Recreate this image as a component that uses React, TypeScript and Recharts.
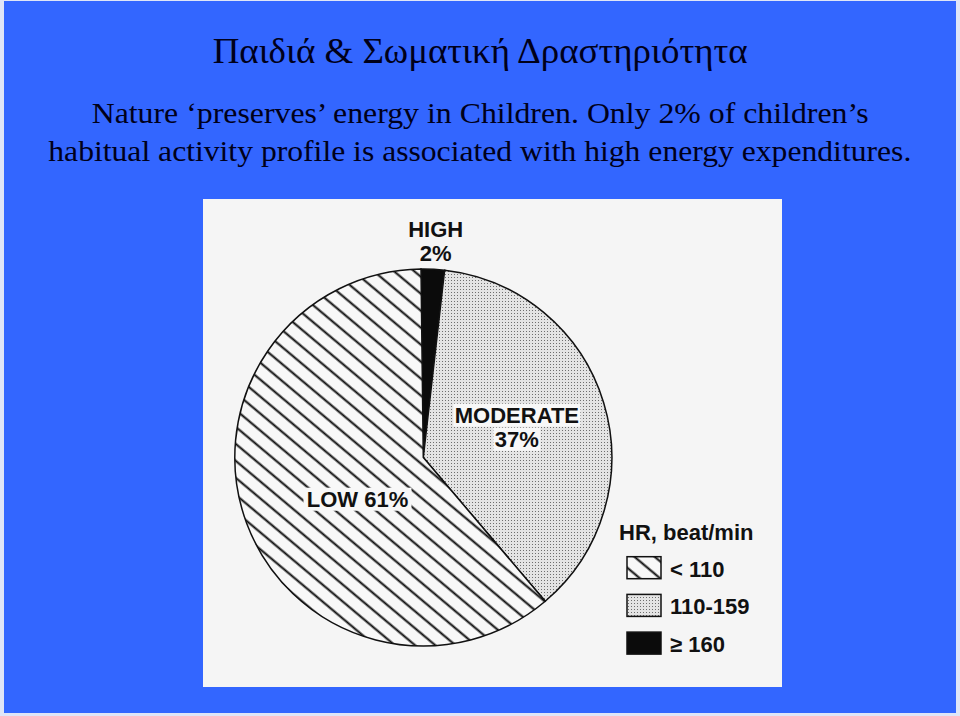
import React from 'react';
import { PieChart, Pie, Cell, Legend } from 'recharts';

// ---- data ----
const categories = ['HIGH', 'MODERATE', 'LOW'];
const shares = [2, 37, 61];
const hrRanges = ['≥ 160', '110-159', '< 110'];
const legendTitle = 'HR, beat/min';
const titleText = 'Παιδιά & Σωματική Δραστηριότητα';
const subtitleLines = [
  'Nature ‘preserves’ energy in Children. Only 2% of children’s',
  'habitual activity profile is associated with high energy expenditures.',
];

const data = categories.map((name, i) => ({ name, value: shares[i], range: hrRanges[i] }));

// ---- styles / layout ----
const BLUE = '#3366ff';
const PANEL = '#f5f5f5';
const SANS = "'Liberation Sans', Arial, Helvetica, sans-serif";
const SERIF = "'Liberation Serif', 'Times New Roman', serif";
const FILL_IDS = ['fill-high', 'fill-mod', 'fill-low'];
const legendOrder = [2, 1, 0];
const RAD = Math.PI / 180;

// label placement relative to each slice (angle offset in deg, radius as fraction of outer radius)
const LABEL_LAYOUT: Record<string, { dAngle: number; r: number; stacked: boolean; boxes: number[] }> = {
  HIGH: { dAngle: -0.5, r: 1.106, stacked: true, boxes: [] },
  MODERATE: { dAngle: -3.2, r: 0.511, stacked: true, boxes: [127, 47] },
  LOW: { dAngle: 16.3, r: 0.436, stacked: false, boxes: [108] },
};

function Patterns({ suffix }: { suffix: string }) {
  return (
    <defs>
      <pattern id={`fill-low${suffix}`} patternUnits="userSpaceOnUse" width={13} height={13} patternTransform="rotate(-50)">
        <rect x={0} y={0} width={13} height={13} fill="#f8f8f8" />
        <line x1={6.5} y1={-1} x2={6.5} y2={14} stroke="#0a0a0a" strokeWidth={2} />
      </pattern>
      <pattern id={`fill-mod${suffix}`} patternUnits="userSpaceOnUse" width={3} height={3}>
        <rect x={0} y={0} width={3} height={3} fill="#e4e4e4" />
        <rect x={1} y={1} width={1} height={1} fill="#6e6e6e" />
      </pattern>
      <pattern id={`fill-high${suffix}`} patternUnits="userSpaceOnUse" width={4} height={4}>
        <rect x={0} y={0} width={4} height={4} fill="#0b0b0b" />
      </pattern>
    </defs>
  );
}

function renderLabel(props: any) {
  const { cx, cy, midAngle, outerRadius, index } = props;
  const name = categories[index];
  const lay = LABEL_LAYOUT[name];
  const a = (midAngle + lay.dAngle) * RAD;
  const r = lay.r * outerRadius;
  const x = cx + r * Math.cos(a);
  const y = cy - r * Math.sin(a);
  const lines = lay.stacked ? [name, `${shares[index]}%`] : [`${name} ${shares[index]}%`];
  const baselines = lay.stacked ? [y - 12, y + 12] : [y];
  return (
    <g key={`lbl-${index}`}>
      {lines.map((t, i) => (
        <g key={i}>
          {lay.boxes[i] ? (
            <rect x={x - lay.boxes[i] / 2} y={baselines[i] - 19} width={lay.boxes[i]} height={23} fill="#f8f8f8" />
          ) : null}
          <text
            x={x}
            y={baselines[i]}
            textAnchor="middle"
            fontFamily={SANS}
            fontWeight="bold"
            fontSize={22}
            fill="#111"
          >
            {t}
          </text>
        </g>
      ))}
    </g>
  );
}

function LegendContent() {
  return (
    <svg width={170} height={150} style={{ display: 'block' }}>
      <Patterns suffix="-lg" />
      <text x={4} y={25} fontFamily={SANS} fontWeight="bold" fontSize={22} fill="#111">
        {legendTitle}
      </text>
      {legendOrder.map((idx, row) => {
        const top = 41.7 + row * 37.7;
        return (
          <g key={idx}>
            <rect x={12} y={top} width={34} height={22} fill={`url(#${FILL_IDS[idx]}-lg)`} stroke="#111" strokeWidth={1.5} />
            <text x={55} y={top + 20} fontFamily={SANS} fontWeight="bold" fontSize={22} fill="#111">
              {hrRanges[idx]}
            </text>
          </g>
        );
      })}
    </svg>
  );
}

export default function App() {
  return (
    <div style={{ position: 'absolute', left: 0, top: 0, width: 960, height: 716, background: '#dfe5f7', overflow: 'hidden' }}>
      <div style={{ position: 'absolute', left: 4, top: 1, width: 952, height: 712, background: BLUE }} />
      <div style={{ position: 'absolute', left: 203, top: 199, width: 579, height: 488, background: PANEL }} />
      <svg width={960} height={200} style={{ position: 'absolute', left: 0, top: 0 }}>
        <text x={212.7} y={63.3} fontFamily={SERIF} fontSize={36} fill="#00001a" textLength={535} lengthAdjust="spacingAndGlyphs">
          {titleText}
        </text>
        <text x={91.7} y={123.3} fontFamily={SERIF} fontSize={29} fill="#00001a" textLength={777} lengthAdjust="spacingAndGlyphs">
          {subtitleLines[0]}
        </text>
        <text x={48.3} y={160.7} fontFamily={SERIF} fontSize={29} fill="#00001a" textLength={863} lengthAdjust="spacingAndGlyphs">
          {subtitleLines[1]}
        </text>
      </svg>
      <div style={{ position: 'absolute', left: 0, top: 0 }}>
        <PieChart width={960} height={716} margin={{ top: 0, right: 0, bottom: 0, left: 0 }}>
          <Patterns suffix="" />
          <Pie
            data={data}
            dataKey="value"
            nameKey="name"
            cx={423.3}
            cy={457.5}
            outerRadius={188.5}
            startAngle={90.7}
            endAngle={-269.3}
            isAnimationActive={false}
            label={renderLabel}
            labelLine={false}
            stroke="#111"
            strokeWidth={1.5}
          >
            {data.map((d, i) => (
              <Cell key={d.name} fill={`url(#${FILL_IDS[i]})`} stroke="#111" strokeWidth={1.5} />
            ))}
          </Pie>
          <Legend
            layout="horizontal"
            verticalAlign="middle"
            align="center"
            content={() => <LegendContent />}
            wrapperStyle={{ left: 615, top: 515, width: 170, height: 150 }}
          />
        </PieChart>
      </div>
    </div>
  );
}
